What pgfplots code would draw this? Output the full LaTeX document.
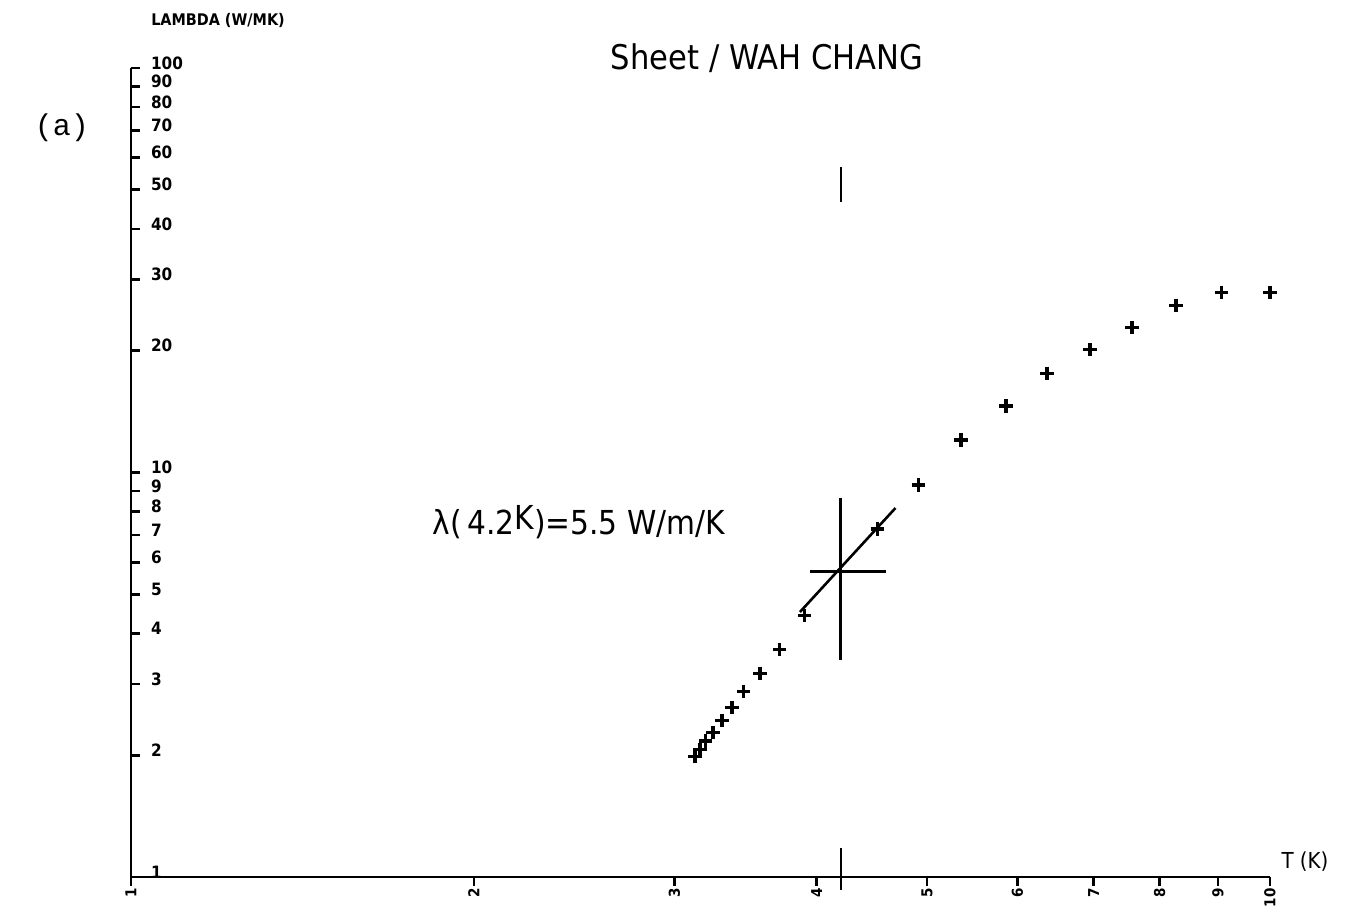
\documentclass[border=0pt]{standalone}
\usepackage{fontspec}
\setmainfont{DejaVu Sans Condensed}
\newfontfamily\monofont{Liberation Mono}
\usepackage{pgfplots}
\pgfplotsset{compat=1.18}
\begin{document}
\begin{tikzpicture}
\path[use as bounding box] (-65.5pt,-17pt) rectangle (610.5pt,438.5pt);
\begin{axis}[
  scale only axis, width=569.5pt, height=404.5pt,
  xmode=log, ymode=log, xmin=1, xmax=10, ymin=1, ymax=100,
  axis x line=bottom, axis y line=left,
  axis line style={-, line width=1.3pt},
  xminorticks=false, yminorticks=false,
  xtick={1,2,3,4,5,6,7,8,9,10},
  xticklabels={1,2,3,4,5,6,7,8,9,10},
  ytick={1,2,3,4,5,6,7,8,9,10,20,30,40,50,60,70,80,90,100},
  yticklabels={1,2,3,4,5,6,7,8,9,10,20,30,40,50,60,70,80,90,100},
  xtick align=outside, ytick align=inside,
  major tick length=4.5pt,
  tick style={line width=1.3pt, black},
  xticklabel style={rotate=90, anchor=east, inner sep=1pt, font=\fontsize{7.5}{8}\selectfont\bfseries},
  yticklabel style={anchor=west, xshift=6.5pt, yshift=2.5pt, font=\fontsize{8.5}{9}\selectfont\bfseries},
  clip=false,
]
\addplot[only marks, mark=+, mark size=3.3pt, mark options={line width=1.6pt}] coordinates {
 (3.127,1.99) (3.159,2.07) (3.197,2.17) (3.243,2.28) (3.303,2.44)
 (3.37,2.62) (3.452,2.88) (3.566,3.19) (3.713,3.66) (3.905,4.44)
 (4.2,5.68) (4.52,7.25) (4.91,9.31) (5.355,12.03) (5.865,14.6)
 (6.37,17.6) (6.95,20.1) (7.565,22.8) (8.27,25.9) (9.07,27.9) (10.0,27.9)
};
\addplot[line width=1.3pt] coordinates {(3.867,4.52) (4.69,8.17)};
\addplot[line width=1.6pt] coordinates {(4.2,3.44) (4.2,8.65)};
\addplot[line width=1.6pt] coordinates {(3.95,5.68) (4.60,5.68)};
\addplot[line width=1.3pt] coordinates {(4.2,46.6) (4.2,56.9)};
\addplot[line width=1.3pt] coordinates {(4.2,1.18) (4.2,0.93)};
\node at (rel axis cs:0.5584,1.0124) {\fontsize{17}{20}\selectfont Sheet / WAH CHANG};
\node at (rel axis cs:0.3933,0.4388) {\fontsize{16.5}{19}\selectfont λ(\,4.2\raisebox{2.5pt}{K})=5.5 W/m/K};
\node at (rel axis cs:0.0764,1.0593) {\fontsize{8}{9}\selectfont\bfseries LAMBDA (W/MK)};
\node at (rel axis cs:-0.0606,0.9258) {\monofont\fontsize{15}{17}\selectfont (a)};
\node at (rel axis cs:1.0307,0.0185) {\fontsize{11}{12}\selectfont T (K)};
\end{axis}
\end{tikzpicture}
\end{document}
